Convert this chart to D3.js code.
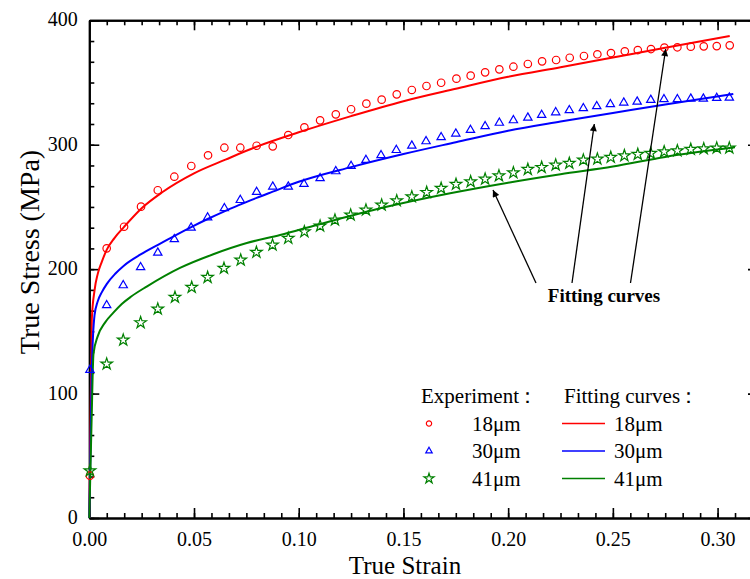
<!DOCTYPE html>
<html>
<head>
<meta charset="utf-8">
<script src="https://cdn.jsdelivr.net/npm/d3@7"></script>
<style>
  body { margin: 0; background: #fff; }
  svg { display: block; }
  text { font-family: "Liberation Serif", "Times New Roman", serif; }
</style>
</head>
<body>
<svg id="chart" width="750" height="579"></svg>
<script>
// tick labels
var xTicks = [0, 0.05, 0.10, 0.15, 0.20, 0.25, 0.30];
var yTicks = [0, 100, 200, 300, 400];

// experiment points [strain, stress]
var exp18 = [
  [0.0003, 34], [0.0083, 216.7], [0.0166, 234.1], [0.0247, 250.2], [0.0327, 263.4], [0.0406, 274.3],
  [0.0487, 282.9], [0.0567, 291.5], [0.0645, 297.6], [0.0721, 297.6], [0.0799, 299.2], [0.0876, 298.7],
  [0.0950, 307.8], [0.1027, 314], [0.1102, 319.6], [0.1177, 324.4], [0.125, 328.5], [0.1323, 333],
  [0.1396, 336.2], [0.1468, 340.5], [0.154, 344], [0.161, 347.2], [0.168, 349.8], [0.1753, 353.1],
  [0.1821, 355.5], [0.189, 358.2], [0.1958, 360.6], [0.2025, 362.7], [0.2094, 364.9], [0.2162, 367],
  [0.2229, 368.1], [0.2294, 369.9], [0.2362, 371.3], [0.2426, 372.7], [0.2491, 373.7], [0.2557, 375.1],
  [0.2619, 376.1], [0.2682, 376.9], [0.2746, 378], [0.2808, 378.3], [0.2872, 378.8], [0.2934, 379.1],
  [0.2996, 379.3], [0.3058, 379.9]
];
var exp30 = [
  [0.0003, 119], [0.0083, 171], [0.0162, 187], [0.0245, 201.5], [0.0327, 213.2], [0.0406, 224],
  [0.0486, 233.3], [0.0565, 241.5], [0.0645, 248.9], [0.0721, 255.5], [0.0799, 262], [0.0876, 266.3],
  [0.095, 266.3], [0.1025, 268.4], [0.1102, 273], [0.1177, 278.6], [0.125, 282.9], [0.1321, 287.7],
  [0.1393, 291.5], [0.1466, 295.7], [0.154, 299.2], [0.1608, 302.7], [0.168, 306], [0.175, 308.9],
  [0.182, 311.8], [0.189, 314.8], [0.1958, 317.6], [0.2025, 319.6], [0.2094, 321.7], [0.216, 323.9],
  [0.2227, 326], [0.2292, 327.7], [0.2359, 329.3], [0.2423, 330.9], [0.2488, 332.5], [0.2552, 333.8],
  [0.2616, 334.6], [0.2681, 336], [0.2744, 336.5], [0.2808, 336.5], [0.2872, 337], [0.2932, 337],
  [0.2996, 337.5], [0.3056, 337.8]
];
var exp41 = [
  [0.0003, 38], [0.0083, 123.8], [0.0162, 143], [0.0245, 157], [0.0327, 168], [0.0409, 177.4],
  [0.0489, 185.4], [0.0565, 193.4], [0.0643, 200.7], [0.0723, 207.3], [0.0798, 213.6], [0.0875, 219.4],
  [0.095, 224.8], [0.1027, 230.1], [0.1102, 234.7], [0.1173, 239.5], [0.1248, 243.5], [0.1321, 247.5],
  [0.1396, 251.5], [0.1468, 255], [0.154, 258.2], [0.1611, 261.7], [0.168, 265], [0.1751, 268.2],
  [0.1821, 270.3], [0.189, 272.4], [0.1956, 275], [0.2025, 277.5], [0.2094, 280.2], [0.216, 281.8],
  [0.2227, 283.7], [0.2292, 285.1], [0.2359, 287.7], [0.2426, 288.5], [0.249, 289.9], [0.2555, 291.2],
  [0.2619, 292.3], [0.2681, 293.1], [0.2745, 294.4], [0.2808, 295.2], [0.2872, 296.3], [0.2934, 296.8],
  [0.2996, 297.4], [0.3056, 297.4]
];

// fitting curves
var fit18 = [
  [0, 0], [0.0012, 160], [0.0025, 183], [0.004, 196], [0.006, 206], [0.0083, 215.5], [0.012, 225],
  [0.0166, 234], [0.025, 249], [0.035, 262], [0.05, 277], [0.065, 288], [0.08, 298.5], [0.1, 310],
  [0.125, 323], [0.15, 335], [0.175, 345], [0.2, 354.6], [0.225, 362.3], [0.25, 370.1], [0.275, 377.9],
  [0.3058, 387.4]
];
var fit30 = [
  [0, 0], [0.0012, 119], [0.0025, 163], [0.004, 174], [0.006, 181.5], [0.0083, 188], [0.0125, 196.5],
  [0.0165, 202.8], [0.0245, 211.8], [0.0328, 219.6], [0.0409, 227], [0.0489, 234], [0.0565, 240.3],
  [0.0645, 246.5], [0.0723, 252], [0.0799, 257.3], [0.0876, 262.3], [0.1, 270.2], [0.125, 282],
  [0.15, 292.5], [0.175, 302], [0.2, 311.3], [0.225, 318.6], [0.25, 325.5], [0.275, 332.4], [0.3075, 340.8]
];
var fit41 = [
  [0, 0], [0.0011, 79], [0.002, 132], [0.004, 146], [0.0075, 157], [0.0115, 165], [0.0155, 172],
  [0.02, 178], [0.0274, 186], [0.0433, 201], [0.0592, 212], [0.0752, 221], [0.0911, 227.4],
  [0.1086, 235.5], [0.1404, 249.5], [0.1723, 261], [0.2, 269.5], [0.225, 276.3], [0.25, 282.5],
  [0.275, 290.2], [0.3083, 297.9]
];

var sizes = ["18\u03bcm", "30\u03bcm", "41\u03bcm"];
var colors = ["#ff0000", "#0000ff", "#008000"];

var svg = d3.select("#chart");

var x = d3.scaleLinear().domain([0, 0.3193]).range([89.3, 758]);
var y = d3.scaleLinear().domain([0, 400]).range([518, 20.3]);

var xMinor = d3.range(0, 0.3193, 0.05 / 6);
var yMinor = d3.range(0, 400.1, 100 / 6);

function styleAxis(g) {
  g.select(".domain").attr("stroke", "#000").attr("stroke-width", 2);
  g.selectAll(".tick line").attr("stroke", "#000").attr("stroke-width", 1.6);
  g.selectAll(".tick text").attr("fill", "#000").style("font-size", "20px")
    .style("font-family", "'Liberation Serif', 'Times New Roman', serif");
}

// minor ticks
svg.append("g").attr("transform", "translate(0,518)")
  .call(d3.axisBottom(x).tickValues(xMinor).tickSize(-5).tickSizeOuter(0).tickFormat(""))
  .call(styleAxis);
svg.append("g").attr("transform", "translate(0,20.3)")
  .call(d3.axisTop(x).tickValues(xMinor).tickSize(-5).tickSizeOuter(0).tickFormat(""))
  .call(styleAxis);
svg.append("g").attr("transform", "translate(89.3,0)")
  .call(d3.axisLeft(y).tickValues(yMinor).tickSize(-5).tickSizeOuter(0).tickFormat(""))
  .call(styleAxis);

// major ticks
svg.append("g").attr("transform", "translate(0,518)")
  .call(d3.axisBottom(x).tickValues(xTicks).tickSize(-10).tickSizeOuter(0).tickPadding(13.5).tickFormat(d3.format(".2f")))
  .call(styleAxis);
svg.append("g").attr("transform", "translate(0,20.3)")
  .call(d3.axisTop(x).tickValues(xTicks).tickSize(-10).tickSizeOuter(0).tickFormat(""))
  .call(styleAxis);
svg.append("g").attr("transform", "translate(89.3,0)")
  .call(d3.axisLeft(y).tickValues(yTicks).tickSize(-10).tickSizeOuter(0).tickPadding(11.5).tickFormat(d3.format("d")))
  .call(styleAxis)
  .selectAll(".tick text").attr("dy", "0.28em");
svg.append("g").attr("transform", "translate(758,0)")
  .call(d3.axisRight(y).tickValues(yTicks).tickSize(-10).tickSizeOuter(0).tickFormat(""))
  .call(styleAxis);

// axis titles
svg.append("text")
  .attr("x", 405).attr("y", 573.5)
  .attr("text-anchor", "middle")
  .style("font-size", "25px")
  .text("True Strain");

svg.append("text")
  .attr("transform", "translate(39,252) rotate(-90)")
  .attr("text-anchor", "middle")
  .style("font-size", "28px")
  .text("True Stress (MPa)");

// fitting curves
var line = d3.line()
  .x(function(d) { return x(d[0]); })
  .y(function(d) { return y(d[1]); })
  .curve(d3.curveMonotoneX);

[fit18, fit30, fit41].forEach(function(f, i) {
  svg.append("path")
    .datum(f)
    .attr("d", line)
    .attr("fill", "none")
    .attr("stroke", colors[i])
    .attr("stroke-width", 2);
});

// experiment markers
var symbols = [
  d3.symbol().type(d3.symbolCircle).size(44),
  d3.symbol().type(d3.symbolTriangle).size(30),
  d3.symbol().type(d3.symbolStar).size(42)
];

[exp18, exp30, exp41].forEach(function(e, i) {
  svg.append("g").selectAll("path")
    .data(e)
    .enter().append("path")
    .attr("transform", function(d) { return "translate(" + x(d[0]) + "," + y(d[1]) + ")"; })
    .attr("d", symbols[i])
    .attr("fill", "none")
    .attr("stroke", colors[i])
    .attr("stroke-width", 1.2);
});

// annotation arrows
svg.append("defs").append("marker")
  .attr("id", "head")
  .attr("viewBox", "0 0 10 10")
  .attr("refX", 10).attr("refY", 5)
  .attr("markerWidth", 9).attr("markerHeight", 7)
  .attr("markerUnits", "userSpaceOnUse")
  .attr("orient", "auto")
  .append("path")
  .attr("d", "M0,0 L10,5 L0,10 Z")
  .attr("fill", "#000");

var arrows = [
  [[536, 283], [493, 190]],
  [[572, 283], [594.3, 124]],
  [[630.5, 283], [665.7, 49]]
];
arrows.forEach(function(a) {
  svg.append("line")
    .attr("x1", a[0][0]).attr("y1", a[0][1])
    .attr("x2", a[1][0]).attr("y2", a[1][1])
    .attr("stroke", "#000").attr("stroke-width", 1.3)
    .attr("marker-end", "url(#head)");
});

svg.append("text")
  .attr("x", 604).attr("y", 302)
  .attr("text-anchor", "middle")
  .style("font-size", "19px")
  .style("font-weight", "bold")
  .text("Fitting curves");

// legend
var legend = svg.append("g").style("font-size", "21px");
var t1 = legend.append("text").attr("x", 421).attr("y", 403).text("Experiment");
t1.append("tspan").attr("dx", -2).text("\uff1a");
var t2 = legend.append("text").attr("x", 564).attr("y", 403).text("Fitting curves");
t2.append("tspan").attr("dx", -2).text("\uff1a");

var legendSymbols = [
  d3.symbol().type(d3.symbolCircle).size(22),
  d3.symbol().type(d3.symbolTriangle).size(18),
  d3.symbol().type(d3.symbolStar).size(32)
];

sizes.forEach(function(s, i) {
  var cy = 423.5 + i * 27.5;
  legend.append("path")
    .attr("transform", "translate(429," + cy + ")")
    .attr("d", legendSymbols[i])
    .attr("fill", "none")
    .attr("stroke", colors[i])
    .attr("stroke-width", 1.2);
  legend.append("text").attr("x", 472).attr("y", cy + 7).text(s);
  legend.append("line")
    .attr("x1", 562).attr("x2", 605)
    .attr("y1", cy).attr("y2", cy)
    .attr("stroke", colors[i]).attr("stroke-width", 1.5);
  legend.append("text").attr("x", 614).attr("y", cy + 7).text(s);
});
</script>
</body>
</html>
